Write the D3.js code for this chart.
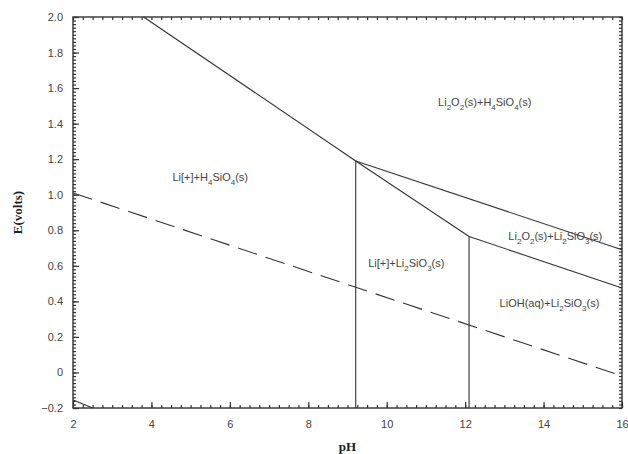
<!DOCTYPE html>
<html>
<head>
<meta charset="utf-8">
<script src="https://cdn.jsdelivr.net/npm/d3@7"></script>
<style>
  body { margin: 0; background: #fff; }
  svg { display: block; }
</style>
</head>
<body>
<svg id="chart"></svg>
<script>
// boundaries, [pH, E] pairs
const upperLeft = [[3.8, 2.0], [9.21, 1.19]];
const upperRight = [[9.21, 1.19], [16, 0.69]];
const midSlope = [[9.21, 1.19], [12.1, 0.765]];
const lowerRight = [[12.1, 0.765], [16, 0.475]];
const vertLeft = [[9.21, 1.19], [9.21, -0.2]];
const vertRight = [[12.1, 0.765], [12.1, -0.2]];
const cornerLine = [[2, -0.155], [2.5, -0.2]];
const waterLine = [[2, 1.01], [16, -0.02]];

const xTicks = [2, 4, 6, 8, 10, 12, 14, 16];
const yTicks = [-0.2, 0, 0.2, 0.4, 0.6, 0.8, 1.0, 1.2, 1.4, 1.6, 1.8, 2.0];

// region labels: [pH, E, parts] ; parts: [text, isSub]
const regionLabels = [
  [5.5, 1.08, [["Li[+]+H", 0], ["4", 1], ["SiO", 0], ["4", 1], ["(s)", 0]]],
  [12.5, 1.5, [["Li", 0], ["2", 1], ["O", 0], ["2", 1], ["(s)+H", 0], ["4", 1], ["SiO", 0], ["4", 1], ["(s)", 0]]],
  [14.3, 0.745, [["Li", 0], ["2", 1], ["O", 0], ["2", 1], ["(s)+Li", 0], ["2", 1], ["SiO", 0], ["3", 1], ["(s)", 0]]],
  [10.5, 0.595, [["Li[+]+Li", 0], ["2", 1], ["SiO", 0], ["3", 1], ["(s)", 0]]],
  [14.15, 0.37, [["LiOH(aq)+Li", 0], ["2", 1], ["SiO", 0], ["3", 1], ["(s)", 0]]]
];

const width = 628, height = 454;
const margin = {top: 17, right: 6, bottom: 46, left: 73};

const svg = d3.select('#chart').attr('width', width).attr('height', height);

const x = d3.scaleLinear().domain([2, 16]).range([margin.left, width - margin.right]);
const y = d3.scaleLinear().domain([-0.2, 2.0]).range([height - margin.bottom, margin.top]);

const ink = '#333';
const line = d3.line().x(d => x(d[0])).y(d => y(d[1]));

// minor ticks, inward on all sides
const xMinor = d3.range(2, 16.001, 0.25);
const yMinor = d3.range(-0.2, 2.0001, 0.02);

const addMinor = (axis, tx, ty) => {
  const g = svg.append('g')
    .attr('transform', `translate(${tx},${ty})`)
    .call(axis.tickSize(-3).tickFormat(''));
  g.selectAll('.tick text').remove();
};
addMinor(d3.axisBottom(x).tickValues(xMinor), 0, y(-0.2));
addMinor(d3.axisTop(x).tickValues(xMinor), 0, y(2));
addMinor(d3.axisLeft(y).tickValues(yMinor), x(2), 0);
addMinor(d3.axisRight(y).tickValues(yMinor), x(16), 0);

// major ticks + labels
svg.append('g').attr('transform', `translate(0,${y(-0.2)})`)
  .call(d3.axisBottom(x).tickValues(xTicks).tickSize(-6).tickPadding(12).tickFormat(d3.format('d')));
svg.append('g').attr('transform', `translate(${x(2)},0)`)
  .call(d3.axisLeft(y).tickValues(yTicks).tickSize(-6).tickPadding(10)
    .tickFormat(d => d === 0 ? '0' : d3.format('.1f')(d)));

svg.selectAll('.domain').remove();
svg.selectAll('.tick line').attr('stroke', ink).attr('stroke-width', 1.2);
svg.selectAll('.tick text')
  .attr('fill', '#444')
  .style('font-family', 'Arial, "Liberation Sans", sans-serif')
  .style('font-size', '11px');

// frame
svg.append('rect')
  .attr('x', x(2)).attr('y', y(2))
  .attr('width', x(16) - x(2)).attr('height', y(-0.2) - y(2))
  .attr('fill', 'none').attr('stroke', ink).attr('stroke-width', 1.4);

// boundary lines
[upperLeft, upperRight, midSlope, lowerRight, vertLeft, vertRight, cornerLine].forEach(seg => {
  svg.append('path').attr('d', line(seg))
    .attr('fill', 'none').attr('stroke', ink).attr('stroke-width', 1.1);
});
svg.append('path').attr('d', line(waterLine))
  .attr('fill', 'none').attr('stroke', ink).attr('stroke-width', 1.1)
  .attr('stroke-dasharray', '20,9');

// region labels
regionLabels.forEach(([px, pe, parts]) => {
  const t = svg.append('text')
    .attr('x', x(px)).attr('y', y(pe))
    .attr('text-anchor', 'middle')
    .attr('fill', '#444')
    .style('font-family', 'Arial, "Liberation Sans", sans-serif')
    .style('font-size', '11px');
  parts.forEach(([s, sub], i) => {
    const ts = t.append('tspan').text(s);
    if (sub) ts.attr('dy', 4).style('font-size', '8px');
    else if (i > 0 && parts[i - 1][1]) ts.attr('dy', -4);
  });
});

// axis titles
svg.append('text')
  .attr('x', x(9)).attr('y', 451)
  .attr('text-anchor', 'middle')
  .style('font-family', '"Liberation Serif", "Times New Roman", serif')
  .style('font-weight', 'bold').style('font-size', '13px')
  .attr('fill', '#222')
  .text('pH');

svg.append('text')
  .attr('transform', `translate(22,${(y(2) + y(-0.2)) / 2}) rotate(-90)`)
  .attr('text-anchor', 'middle')
  .style('font-family', '"Liberation Serif", "Times New Roman", serif')
  .style('font-weight', 'bold').style('font-size', '13px')
  .attr('fill', '#222')
  .text('E(volts)');
</script>
</body>
</html>
